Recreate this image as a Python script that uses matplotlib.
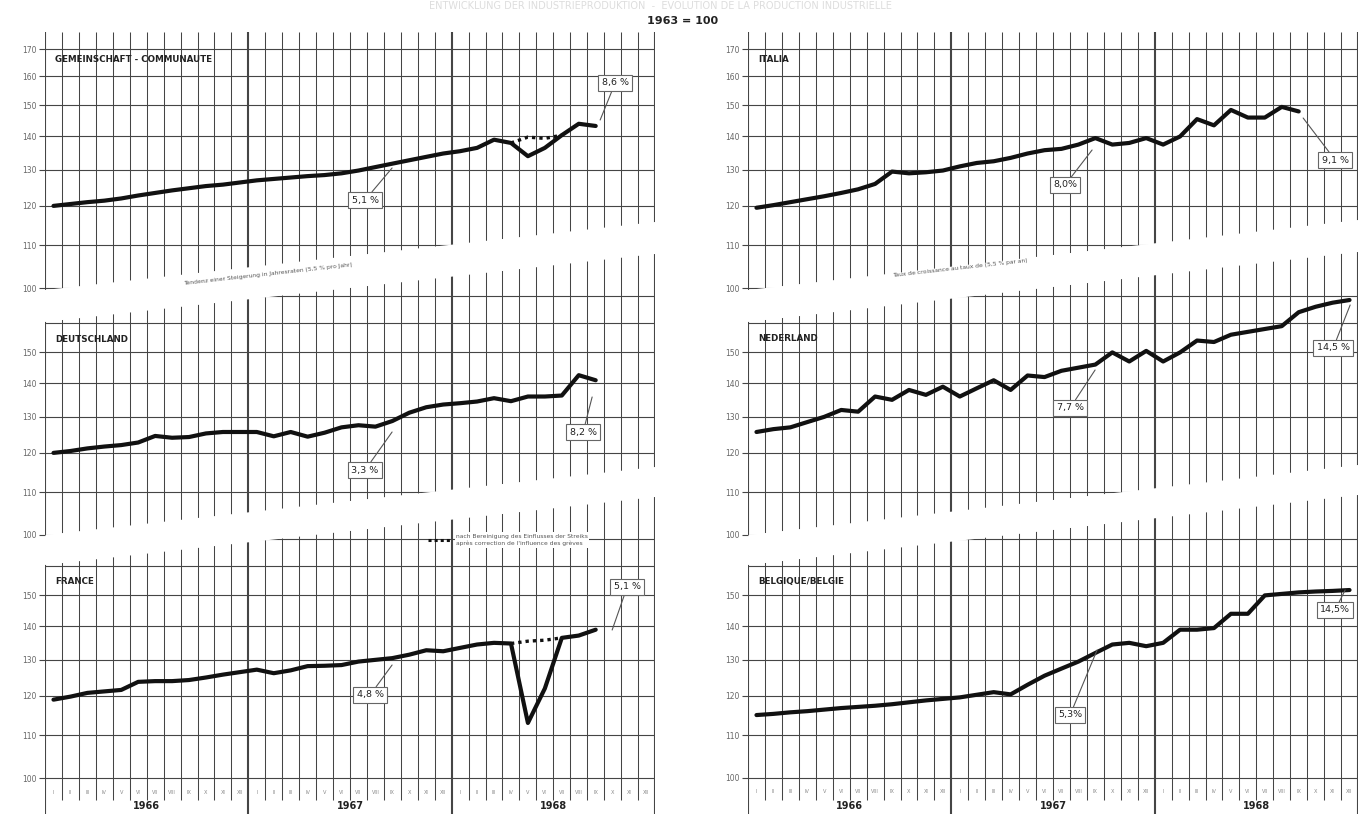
import numpy as np
import matplotlib
matplotlib.use("Agg")
import matplotlib.pyplot as plt
from matplotlib.patches import Polygon
from matplotlib.lines import Line2D

# ---------------- data ----------------
years = ["1966", "1967", "1968"]
months = ["I", "II", "III", "IV", "V", "VI", "VII", "VIII", "IX", "X", "XI", "XII"]
yticks = [100, 110, 120, 130, 140, 150, 160, 170]

gemeinschaft = [120.0, 120.5, 121.0, 121.4, 122.0, 122.8, 123.5, 124.2, 124.8, 125.4, 125.8, 126.4,
                127.0, 127.4, 127.8, 128.2, 128.5, 129.0, 129.8, 130.8, 131.8, 132.8, 133.8, 134.8,
                135.5, 136.5, 139.0, 138.0, 134.0, 136.5, 140.4, 144.0, 143.3]
gemeinschaft_corr = [138.0, 139.8, 139.4, 140.4]          # months 27..30
italia = [119.5, 120.2, 121.0, 121.8, 122.6, 123.5, 124.5, 126.0, 129.5, 129.0, 129.3, 129.8,
          131.0, 132.0, 132.5, 133.5, 134.8, 135.8, 136.2, 137.5, 139.5, 137.5, 138.0, 139.5,
          137.5, 140.0, 145.5, 143.5, 148.5, 146.0, 146.0, 149.5, 148.0]
deutschland = [120.0, 120.5, 121.2, 121.7, 122.1, 122.8, 124.6, 124.1, 124.3, 125.3, 125.7, 125.7,
               125.7, 124.5, 125.7, 124.4, 125.5, 127.0, 127.6, 127.2, 128.8, 131.2, 132.8, 133.6,
               134.0, 134.5, 135.5, 134.6, 136.0, 136.0, 136.3, 142.6, 141.0]
nederland = [125.7, 126.5, 127.0, 128.5, 130.0, 132.0, 131.5, 136.0, 135.0, 138.0, 136.5, 139.0,
             136.0, 138.5, 141.0, 138.0, 142.5, 142.0, 144.0, 145.0, 146.0, 150.0, 147.0, 150.5,
             147.0, 150.0, 154.0, 153.5, 156.0, 157.0, 158.0, 159.0, 164.0, 166.0, 167.5, 168.5]
france = [119.0, 119.8, 120.8, 121.2, 121.6, 123.8, 124.0, 124.0, 124.3, 125.0, 125.8, 126.5,
          127.2, 126.2, 127.0, 128.2, 128.3, 128.5, 129.5, 130.0, 130.5, 131.5, 132.8, 132.5,
          133.5, 134.5, 135.0, 134.8, 113.0, 122.0, 136.5, 137.2, 139.0]
france_corr = [134.8, 135.5, 135.8, 136.5]                # months 27..30
belgique = [115.0, 115.3, 115.7, 116.0, 116.4, 116.8, 117.1, 117.4, 117.8, 118.3, 118.8, 119.2,
            119.6, 120.3, 121.0, 120.4, 123.0, 125.5, 127.5, 129.5, 132.0, 134.5, 135.0, 134.0,
            135.0, 139.0, 139.0, 139.5, 144.0, 144.0, 150.0, 150.5, 151.0, 151.3, 151.5, 151.8]

# ---------------- layout (pixels) ----------------
W, H = 1365, 814
K = 1037.0          # pixels per decade of the log scale
MPX = 16.94         # pixels per month
cols = [(45, 655), (748, 1358)]

fig = plt.figure(figsize=(W / 100, H / 100), dpi=100)
fig.patch.set_facecolor("white")

GRID = "#454545"
INK = "#111111"


def val(y100, ypx):
    return 100.0 * 10 ** ((y100 - ypx) / K)


def make_panel(col, ytop, ybot, y100, top_edge, bot_edge, name, series, corr=None,
               callouts=None, bottom=False):
    x0, x1 = cols[col]
    ax = fig.add_axes([x0 / W, 1 - ybot / H, (x1 - x0) / W, (ybot - ytop) / H])
    ax.set_yscale("log")
    ax.set_xlim(0, 36)
    ax.set_ylim(val(y100, ybot), val(y100, ytop))
    ax.patch.set_visible(False)
    for s in ax.spines.values():
        s.set_visible(False)

    tl, tr = top_edge
    bl, br = bot_edge
    poly = Polygon([(0, val(y100, tl)), (36, val(y100, tr)), (36, val(y100, br)),
                    (0, val(y100, bl))], closed=True, transform=ax.transData,
                   fc="none", ec="none")
    ax.add_patch(poly)

    vlo = val(y100, ybot)
    vhi = val(y100, ytop)
    vmonth_lo = val(y100, 800) if bottom else vlo
    vl = ax.vlines([m for m in range(37) if m % 12], vmonth_lo, vhi, color=GRID, lw=0.75)
    vl.set_clip_path(poly)
    vy = ax.vlines([0, 12, 24, 36], vlo, vhi, color=GRID, lw=1.5)
    vy.set_clip_path(poly)
    hv = [t for t in yticks if vlo < t < vhi]
    hl = ax.hlines(hv, 0, 36, color=GRID, lw=0.8)
    hl.set_clip_path(poly)

    shown = [t for t in hv if val(y100, bl + 1) <= t <= val(y100, tl + 10)]
    ax.set_yticks(shown)
    ax.set_yticklabels([str(t) for t in shown])
    ax.yaxis.set_minor_locator(matplotlib.ticker.NullLocator())
    ax.tick_params(axis="y", length=4, width=0.8, color=GRID, labelsize=5.5,
                   labelcolor="#666666", pad=2)
    ax.set_xticks([])

    xs = np.arange(len(series)) + 0.5
    ax.plot(xs, series, color=INK, lw=3.0, solid_joinstyle="round",
            solid_capstyle="round", zorder=5)
    if corr is not None:
        xc = np.arange(27, 27 + len(corr)) + 0.5
        ax.plot(xc, corr, color=INK, lw=2.4, ls=(0, (1, 1.2)), zorder=5)

    name_y = 60 if tl == ytop else tl + 17
    ax.text(0.6, val(y100, name_y), name, fontsize=6.3, fontweight="bold",
            color="#222222", va="center", ha="left", zorder=6)

    if callouts:
        for txt, bx, by, px, py in callouts:
            ax.annotate(txt, xy=((px - x0) / MPX, val(y100, py)),
                        xytext=((bx - x0) / MPX, val(y100, by)),
                        fontsize=6.8, ha="center", va="center", color="#222222",
                        bbox=dict(boxstyle="square,pad=0.35", fc="white", ec="#666666",
                                  lw=0.8),
                        arrowprops=dict(arrowstyle="-", color="#555555", lw=0.8,
                                        shrinkA=0, shrinkB=0),
                        zorder=7)

    if bottom:
        for i in range(36):
            ax.text(i + 0.5, val(y100, 792), months[i % 12], fontsize=3.6,
                    ha="center", va="center", color="#888888")
        for j, yr in enumerate(years):
            ax.text(12 * j + 6, val(y100, 806), yr, fontsize=7, fontweight="bold",
                    ha="center", va="center", color="#222222")
    return ax


# left column
make_panel(0, 32, 292, 288, (32, 32), (290, 222), "GEMEINSCHAFT - COMMUNAUTE",
           gemeinschaft, gemeinschaft_corr,
           [("5,1 %", 365, 200, 392, 168), ("8,6 %", 615, 83, 600, 120)])
make_panel(0, 252, 537, 535, (322, 254), (535, 467), "DEUTSCHLAND", deutschland, None,
           [("3,3 %", 365, 470, 392, 432), ("8,2 %", 583, 432, 592, 397)])
make_panel(0, 497, 814, 778, (565, 497), (814, 814), "FRANCE", france, france_corr,
           [("4,8 %", 370, 695, 392, 665), ("5,1 %", 627, 587, 612, 630)], bottom=True)
# right column
make_panel(1, 32, 292, 288, (32, 32), (290, 220), "ITALIA", italia, None,
           [("8,0%", 1065, 185, 1092, 150), ("9,1 %", 1335, 160, 1303, 118)])
make_panel(1, 250, 537, 535, (322, 252), (535, 465), "NEDERLAND", nederland, None,
           [("7,7 %", 1070, 408, 1095, 370), ("14,5 %", 1333, 348, 1350, 305)])
make_panel(1, 495, 814, 778, (565, 495), (814, 814), "BELGIQUE/BELGIE", belgique, None,
           [("5,3%", 1070, 715, 1097, 650), ("14,5%", 1335, 610, 1345, 590)], bottom=True)

# band texts
ang = np.degrees(np.arctan(68 / 610))
fig.text(268 / W, 1 - 274 / H, "Tendenz einer Steigerung in Jahresraten (5,5 % pro Jahr)",
         fontsize=4.3, color="#555555", rotation=ang, ha="center", va="center")
fig.text(960 / W, 1 - 268 / H, "Taux de croissance au taux de (5,5 % par an)",
         fontsize=4.3, color="#555555", rotation=ang, ha="center", va="center")

# legend for corrected series
fig.add_artist(Line2D([428 / W, 452 / W], [1 - 540 / H, 1 - 540 / H],
                      color=INK, lw=2.2, ls=(0, (1, 1)), zorder=8))
fig.text(456 / W, 1 - 540 / H,
         "nach Bereinigung des Einflusses der Streiks\naprès correction de l'influence des grèves",
         fontsize=4.3, color="#555555", ha="left", va="center", linespacing=1.5,
         bbox=dict(boxstyle="square,pad=0.25", fc="white", ec="none"), zorder=8)

# faint heading at the very top of the scan
fig.text(660 / W, 1 - 6 / H,
         "ENTWICKLUNG DER INDUSTRIEPRODUKTION  -  EVOLUTION DE LA PRODUCTION INDUSTRIELLE",
         fontsize=7, color="#dddddd", ha="center", va="center")

fig.text(683 / W, 1 - 21 / H, "1963 = 100", fontsize=8, fontweight="bold",
         color="#222222", ha="center", va="center")

fig.savefig("out.png", dpi=100, facecolor="white")
